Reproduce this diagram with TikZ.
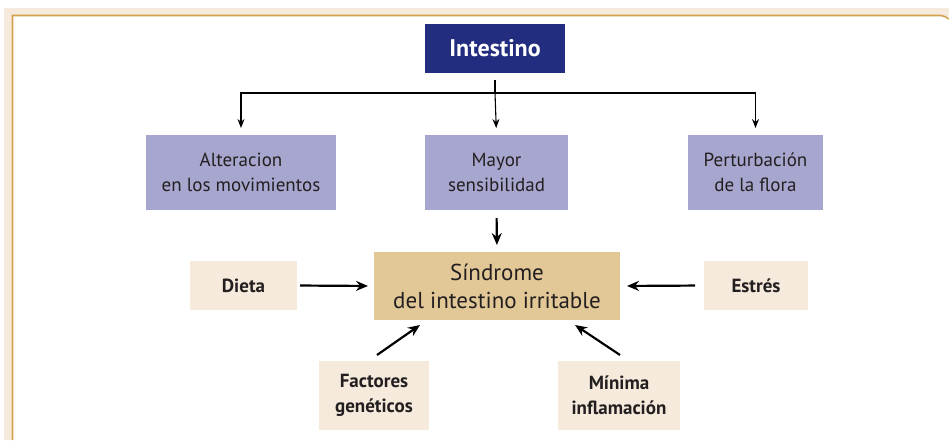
\documentclass[tikz,border=0pt]{standalone}
\usepackage{fontspec}
\setmainfont{PT Sans}
\usetikzlibrary{arrows.meta}
\definecolor{navy}{HTML}{232D7F}
\definecolor{lavender}{HTML}{A6A6CE}
\definecolor{tan}{HTML}{E3C897}
\definecolor{cream}{HTML}{F5EADB}
\definecolor{gold}{HTML}{D4A24C}
\definecolor{ink}{HTML}{231F20}
\begin{document}
\begin{tikzpicture}[x=1pt,y=-1pt,inner sep=0pt,outer sep=0pt,text=ink,
mainblock/.style={fill=navy,text=white,minimum width=140pt,minimum height=49pt,font=\fontsize{24}{28}\selectfont\bfseries},
effblock/.style={fill=lavender,align=center,minimum height=75pt,font=\fontsize{19}{25}\selectfont},
sinblock/.style={fill=tan,align=center,minimum width=246pt,minimum height=68pt,font=\fontsize{23}{28}\selectfont},
causeblock/.style={fill=cream,align=center,font=\fontsize{19}{25}\selectfont\bfseries},
thinarrow/.style={-{Stealth[length=9pt,width=7pt,inset=3pt]},line width=1.1pt},
thickarrow/.style={-{Stealth[length=12pt,width=10pt,inset=4pt]},line width=2.2pt}]
\useasboundingbox (0,0) rectangle (949,440);
% frame
\fill[cream] (4,8) rectangle (949,440);
\fill[white] (12.5,15.5) rectangle (949,440);
\draw[gold,line width=1.6pt] (12.5,440) -- (12.5,15.5) -- (941,15.5) to[out=0,in=150] (949,19);

\draw (495,48.5) node[mainblock] (int) {Intestino};
\draw (241,172.5) node[effblock,minimum width=190pt] (alt) {Alteracion\\en los movimientos};
\draw (496.5,172.5) node[effblock,minimum width=143pt] (may) {Mayor\\sensibilidad};
\draw (755.5,172.5) node[effblock,minimum width=135pt] (per) {Perturbación\\de la flora};
\draw (497,286) node[sinblock] (sin) {Síndrome\\del intestino irritable};
\draw (243.5,285.5) node[causeblock,minimum width=107pt,minimum height=49pt] (die) {Dieta};
\draw (756,285.5) node[causeblock,minimum width=104pt,minimum height=49pt] (est) {Estrés};
\draw (374,395.5) node[causeblock,minimum width=110pt,minimum height=69pt] (fac) {Factores\\genéticos};
\draw (619,395.5) node[causeblock,minimum width=122pt,minimum height=69pt] (min) {Mínima\\inflamación};

\draw[line width=1.1pt,shorten <=7pt] (int.south) -- ++(0,20) coordinate (fork);
\draw[thinarrow,shorten >=7pt] (fork) -- (may.north);
\draw[thinarrow,shorten >=7pt] (fork) -| (alt.north);
\draw[thinarrow,shorten >=7pt] (fork) -| (per.north);

\draw[thickarrow,shorten <=8pt,shorten >=7pt] (may.south) -- (sin.north);
\draw[thickarrow,shorten <=3pt,shorten >=6pt] (die.east) -- (sin.west);
\draw[thickarrow,shorten <=9pt,shorten >=7pt] (est.west) -- (sin.east);
\draw[thickarrow] ([xshift=3pt,yshift=6pt]fac.north) -- ([xshift=-77pt,yshift=-5pt]sin.south);
\draw[thickarrow] ([xshift=1pt,yshift=6pt]min.north) -- ([xshift=78pt,yshift=-5pt]sin.south);
\end{tikzpicture}
\end{document}
